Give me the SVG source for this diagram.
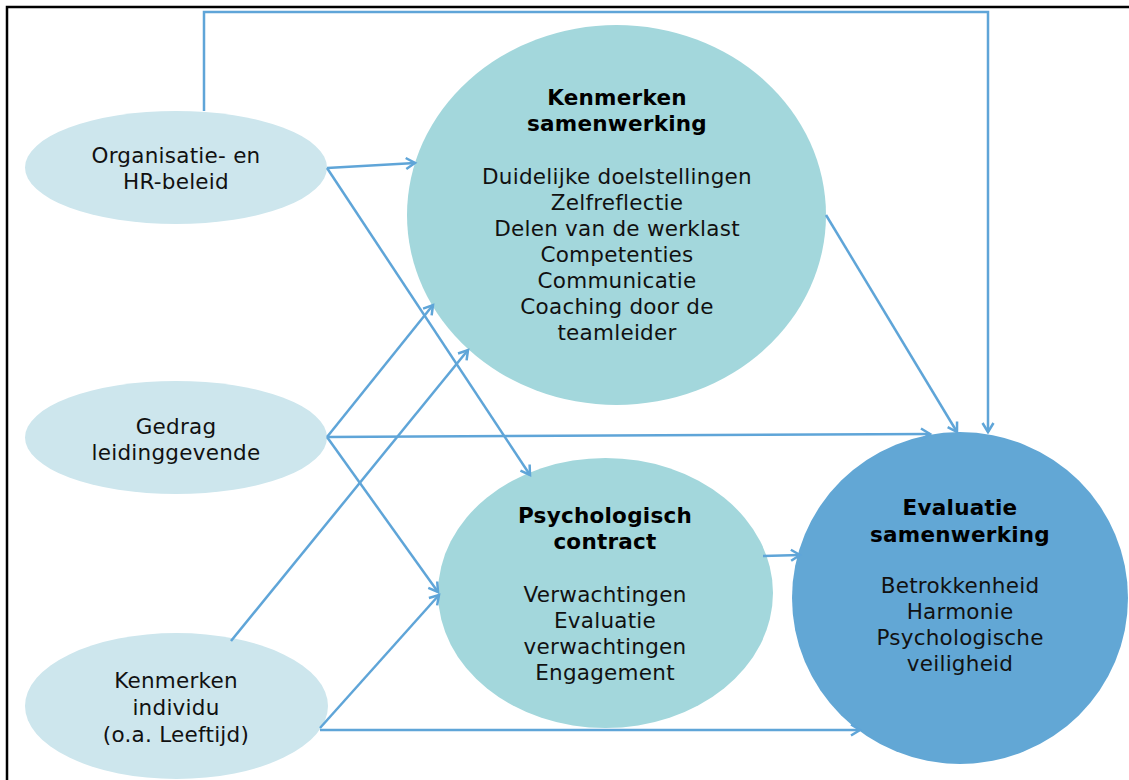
<svg xmlns="http://www.w3.org/2000/svg" width="1129" height="780" viewBox="0 0 1129 780">
  <style>
    .t { font-family: "DejaVu Sans", Verdana, sans-serif; font-size: 21.5px; letter-spacing: 0.25px; fill: #111; text-anchor: middle; }
    .b { font-weight: bold; fill: #000; }
    .src { fill: #cde6ed; }
    .mid { fill: #a3d7dc; }
    .out { fill: #62a7d5; }
    .c { fill: none; stroke: #5fa5d8; stroke-width: 2.5; marker-end: url(#arr); }
  </style>
  <defs>
    <marker id="arr" markerWidth="14" markerHeight="14" refX="11" refY="7" orient="auto" markerUnits="userSpaceOnUse">
      <path d="M2,1.5 L11,7 L2,12.5" fill="none" stroke="#5fa5d8" stroke-width="2.5"/>
    </marker>
  </defs>

  <rect width="1129" height="780" fill="#fff"/>
  <!-- frame -->
  <path d="M7,780 L7,7 L1129,7" fill="none" stroke="#000" stroke-width="2.5"/>

  <g id="n-organisatie">
    <ellipse class="src" cx="176" cy="167.5" rx="151" ry="56.5"/>
    <text class="t" x="176" y="163">Organisatie- en</text>
    <text class="t" x="176" y="189">HR-beleid</text>
  </g>

  <g id="n-gedrag">
    <ellipse class="src" cx="176" cy="437.5" rx="151" ry="56.5"/>
    <text class="t" x="176" y="434">Gedrag</text>
    <text class="t" x="176" y="460">leidinggevende</text>
  </g>

  <g id="n-individu">
    <ellipse class="src" cx="176.5" cy="706" rx="151.5" ry="73"/>
    <text class="t" x="176" y="688">Kenmerken</text>
    <text class="t" x="176" y="715">individu</text>
    <text class="t" x="176" y="742">(o.a. Leeftijd)</text>
  </g>

  <g id="n-kenmerken-samenwerking">
    <ellipse class="mid" cx="616.5" cy="215" rx="209.5" ry="190"/>
    <text class="t b" x="617" y="105">Kenmerken</text>
    <text class="t b" x="617" y="131">samenwerking</text>
    <text class="t" x="617" y="184">Duidelijke doelstellingen</text>
    <text class="t" x="617" y="210">Zelfreflectie</text>
    <text class="t" x="617" y="236">Delen van de werklast</text>
    <text class="t" x="617" y="262">Competenties</text>
    <text class="t" x="617" y="288">Communicatie</text>
    <text class="t" x="617" y="314">Coaching door de</text>
    <text class="t" x="617" y="340">teamleider</text>
  </g>

  <g id="n-psychologisch-contract">
    <ellipse class="mid" cx="605.5" cy="593" rx="167.5" ry="135"/>
    <text class="t b" x="605" y="523">Psychologisch</text>
    <text class="t b" x="605" y="549">contract</text>
    <text class="t" x="605" y="602">Verwachtingen</text>
    <text class="t" x="605" y="628">Evaluatie</text>
    <text class="t" x="605" y="654">verwachtingen</text>
    <text class="t" x="605" y="680">Engagement</text>
  </g>

  <g id="n-evaluatie-samenwerking">
    <ellipse class="out" cx="960" cy="598" rx="168" ry="166"/>
    <text class="t b" x="960" y="515">Evaluatie</text>
    <text class="t b" x="960" y="542">samenwerking</text>
    <text class="t" x="960" y="593">Betrokkenheid</text>
    <text class="t" x="960" y="619">Harmonie</text>
    <text class="t" x="960" y="645">Psychologische</text>
    <text class="t" x="960" y="671">veiligheid</text>
  </g>

  <g id="connectors">
    <path class="c" d="M204,111 L204,12 L988,12 L988,432"/>
    <path class="c" d="M327,168 L415,163"/>
    <path class="c" d="M327,168 L530,475"/>
    <path class="c" d="M327,437 L433,305"/>
    <path class="c" d="M327,437 L930,434"/>
    <path class="c" d="M327,437 L438,592"/>
    <path class="c" d="M231,641 L468,350"/>
    <path class="c" d="M320,728 L439,595"/>
    <path class="c" d="M320,730 L860,730"/>
    <path class="c" d="M826,215 L957,432"/>
    <path class="c" d="M763,556 L800,555"/>
  </g>
</svg>
